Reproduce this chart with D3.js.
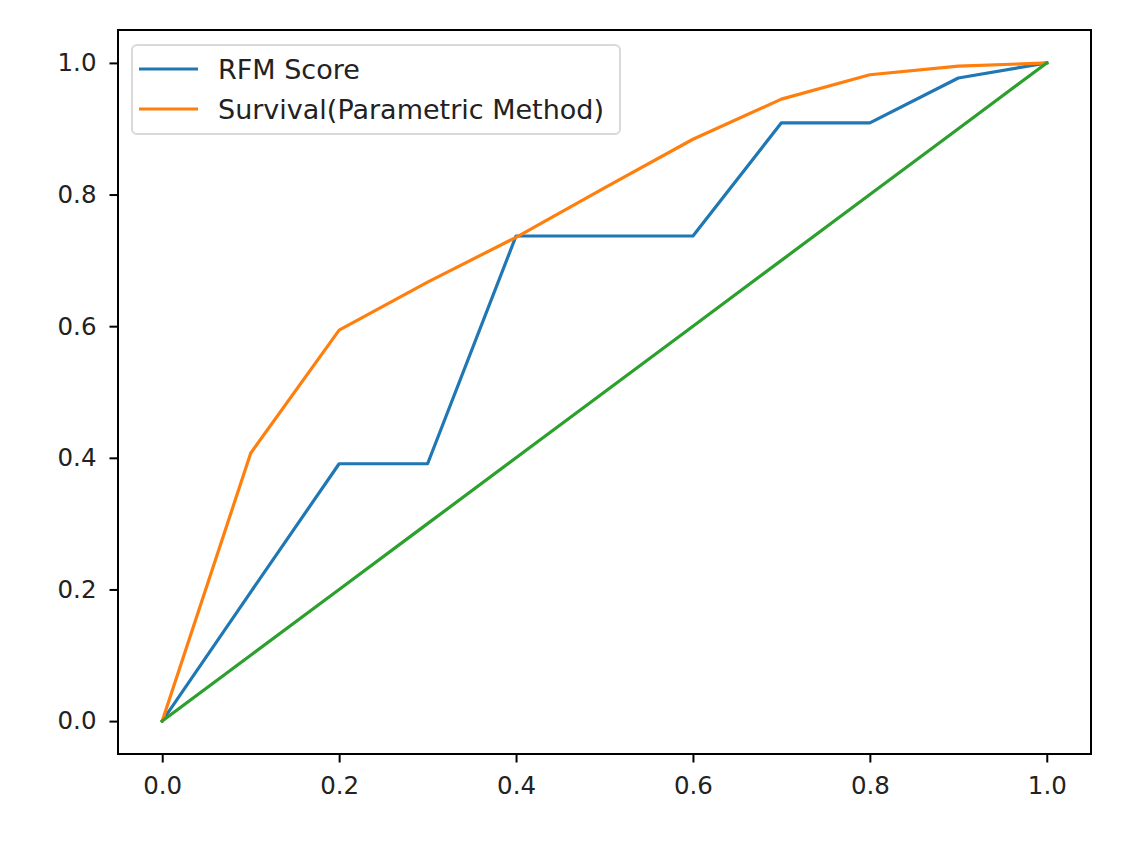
<!DOCTYPE html>
<html><head><meta charset="utf-8">
<script src="https://cdn.jsdelivr.net/npm/d3@7"></script>
<style>body{margin:0;background:#fff}svg{font-family:"DejaVu Sans",sans-serif}</style>
</head><body>
<svg id="c" width="1138" height="844"></svg>
<script>
const xs = [0,0.1,0.2,0.3,0.4,0.5,0.6,0.7,0.8,0.9,1.0];
const rfm = [0,0.196,0.391,0.391,0.737,0.737,0.737,0.909,0.909,0.977,1.0];
const survival = [0,0.407,0.594,0.667,0.735,0.810,0.884,0.945,0.982,0.995,1.0];
const baseline = [0,0.1,0.2,0.3,0.4,0.5,0.6,0.7,0.8,0.9,1.0];
const tickVals = [0,0.2,0.4,0.6,0.8,1.0];
const seriesNames = ["RFM Score","Survival(Parametric Method)"];
const colors = ["#1f77b4","#ff7f0e","#2ca02c"];

const L=118,R=1091,T=30,B=754;
const svg=d3.select("#c");
const x=d3.scaleLinear().domain([-0.05,1.05]).range([L,R]);
const y=d3.scaleLinear().domain([-0.05,1.05]).range([B,T]);

const line=d3.line().x(d=>x(d[0])).y(d=>y(d[1]));
const series=[rfm,survival,baseline];
series.forEach((s,i)=>{
  svg.append("path").datum(xs.map((v,j)=>[v,s[j]]))
    .attr("d",line).attr("fill","none").attr("stroke",colors[i])
    .attr("stroke-width",3.2).attr("stroke-linejoin","round").attr("stroke-linecap","square");
});

const fmt=d3.format(".1f");
const xa=svg.append("g").attr("transform",`translate(0,${B})`)
  .call(d3.axisBottom(x).tickValues(tickVals).tickFormat(fmt).tickSize(8.5).tickPadding(14));
const ya=svg.append("g").attr("transform",`translate(${L},0)`)
  .call(d3.axisLeft(y).tickValues(tickVals).tickFormat(fmt).tickSize(8.5).tickPadding(13));
[xa,ya].forEach(a=>{
  a.select(".domain").remove();
  a.selectAll("line").attr("stroke","#000").attr("stroke-width",2);
  a.selectAll("text").attr("font-size","24.5px").attr("fill","#222").attr("font-family","DejaVu Sans");
});
svg.append("rect").attr("x",L).attr("y",T).attr("width",R-L).attr("height",B-T)
  .attr("fill","none").attr("stroke","#000").attr("stroke-width",2);

// legend
const lg=svg.append("g");
lg.append("rect").attr("x",132).attr("y",45).attr("width",488).attr("height",89)
  .attr("rx",5).attr("fill","#fff").attr("fill-opacity",0.8).attr("stroke","#d9d9d9").attr("stroke-width",2);
seriesNames.forEach((n,i)=>{
  const yy=69+i*40;
  lg.append("line").attr("x1",139).attr("x2",198).attr("y1",yy).attr("y2",yy)
    .attr("stroke",colors[i]).attr("stroke-width",3.2);
  lg.append("text").attr("x",218).attr("y",yy).attr("dy","0.36em")
    .attr("font-size","27px").attr("fill","#222").text(n);
});
</script>
</body></html>
